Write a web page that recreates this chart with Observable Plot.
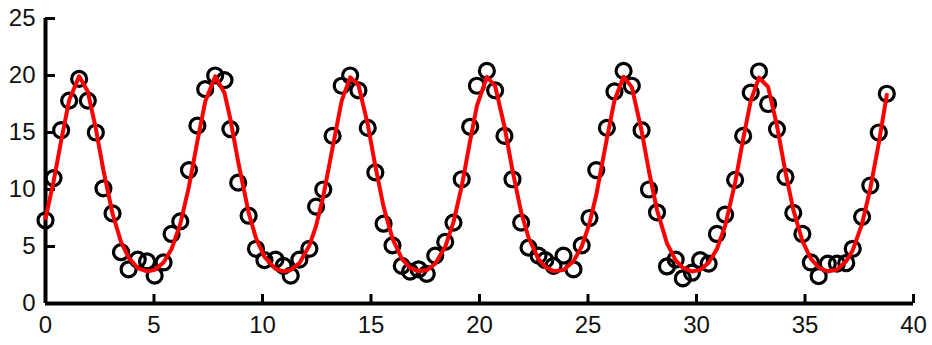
<!DOCTYPE html>
<html><head><meta charset="utf-8">
<script src="https://cdn.jsdelivr.net/npm/d3@7"></script>
<script src="https://cdn.jsdelivr.net/npm/@observablehq/plot@0.6"></script>
<style>body{margin:0;background:#fff}</style>
</head><body><div id="chart"></div>
<script>
const xs = [0.00,0.37,0.72,1.09,1.55,1.95,2.32,2.67,3.09,3.48,
  3.83,4.25,4.68,5.03,5.44,5.81,6.21,6.61,7.00,7.36,
  7.82,8.25,8.52,8.88,9.36,9.70,10.09,10.60,10.97,11.30,
  11.70,12.16,12.47,12.80,13.23,13.65,14.04,14.42,14.85,15.20,
  15.58,15.99,16.42,16.80,17.19,17.57,17.96,18.42,18.80,19.18,
  19.57,19.88,20.34,20.72,21.15,21.52,21.92,22.26,22.72,23.03,
  23.41,23.87,24.33,24.71,25.07,25.38,25.87,26.22,26.64,27.02,
  27.47,27.81,28.18,28.64,29.04,29.37,29.79,30.17,30.56,30.94,
  31.32,31.78,32.15,32.50,32.88,33.30,33.71,34.10,34.46,34.88,
  35.27,35.63,36.05,36.47,36.90,37.20,37.63,38.01,38.40,38.77];
const ys = [7.3,11.0,15.2,17.8,19.7,17.8,15.0,10.1,7.9,4.5,
  3.0,3.85,3.7,2.45,3.6,6.1,7.2,11.7,15.6,18.8,
  20.0,19.6,15.3,10.6,7.7,4.8,3.8,3.85,3.3,2.45,
  3.85,4.8,8.5,10.0,14.7,19.1,20.0,18.7,15.4,11.5,
  7.0,5.1,3.3,2.8,3.0,2.6,4.2,5.4,7.1,10.9,
  15.5,19.1,20.4,18.7,14.7,10.9,7.1,4.9,4.2,3.8,
  3.3,4.2,3.0,5.1,7.5,11.7,15.4,18.6,20.4,19.1,
  15.2,10.0,8.0,3.25,3.85,2.2,2.7,3.8,3.5,6.1,
  7.8,10.85,14.7,18.5,20.35,17.5,15.3,11.1,7.95,6.1,
  3.6,2.4,3.5,3.5,3.55,4.8,7.6,10.35,15.0,18.4];
const fit = [7.48,10.67,14.27,17.82,19.93,18.59,15.33,11.67,7.87,5.40,
  4.02,3.11,2.81,2.95,3.60,4.78,6.96,10.25,14.24,17.71,
  19.92,18.47,16.16,12.43,7.97,5.73,4.09,3.03,2.81,2.94,
  3.54,5.08,6.81,9.39,13.68,17.79,19.84,19.17,15.71,12.05,
  8.48,5.69,3.94,3.13,2.82,2.92,3.49,4.97,7.13,10.28,
  14.28,17.33,19.87,19.08,15.53,11.67,8.02,5.77,3.89,3.21,
  2.84,2.94,3.70,5.00,7.03,9.51,14.46,17.81,19.89,18.98,
  15.15,11.60,8.20,5.27,3.79,3.13,2.81,2.95,3.57,4.78,
  6.81,10.60,14.42,17.79,19.82,19.00,15.59,11.53,8.23,5.48,
  3.94,3.16,2.81,2.97,3.71,4.68,6.99,10.09,14.07,18.30];
const xTicks = [0,5,10,15,20,25,30,35,40];
const yTicks = [0,5,10,15,20,25];

const data = xs.map((x, i) => ({x, y: ys[i], f: fit[i]}));

const chart = Plot.plot({
  width: 932, height: 345,
  marginLeft: 45, marginRight: 19, marginTop: 18, marginBottom: 42,
  style: {fontFamily: "'Liberation Sans', Arial, sans-serif", fontSize: "24px", color: "black", background: "white", overflow: "visible"},
  x: {domain: [0, 40]},
  y: {domain: [0, 25]},
  marks: [
    Plot.axisX(xTicks, {tickSize: 0, tickPadding: 12, fontSize: 24, fill: "#111", label: null}),
    Plot.axisY(yTicks, {tickSize: 0, tickPadding: 10, fontSize: 24, fill: "#111", label: null}),
    Plot.ruleX(xTicks, {x: d => d, y1: 0, y2: 0, insetTop: -9, strokeWidth: 3, stroke: "black"}),
    Plot.ruleY(yTicks, {y: d => d, x1: 0, x2: 0, insetRight: -10, strokeWidth: 3, stroke: "black"}),
    Plot.ruleX([0], {strokeWidth: 4, stroke: "black"}),
    Plot.ruleY([0], {strokeWidth: 4, stroke: "black"}),
    Plot.dot(data, {x: "x", y: "y", r: 7.5, stroke: "black", strokeWidth: 3.2, fill: "none"}),
    Plot.line(data, {x: "x", y: "f", stroke: "#ff0000", strokeWidth: 4})
  ]
});
document.getElementById("chart").appendChild(chart);
</script>
</body></html>
